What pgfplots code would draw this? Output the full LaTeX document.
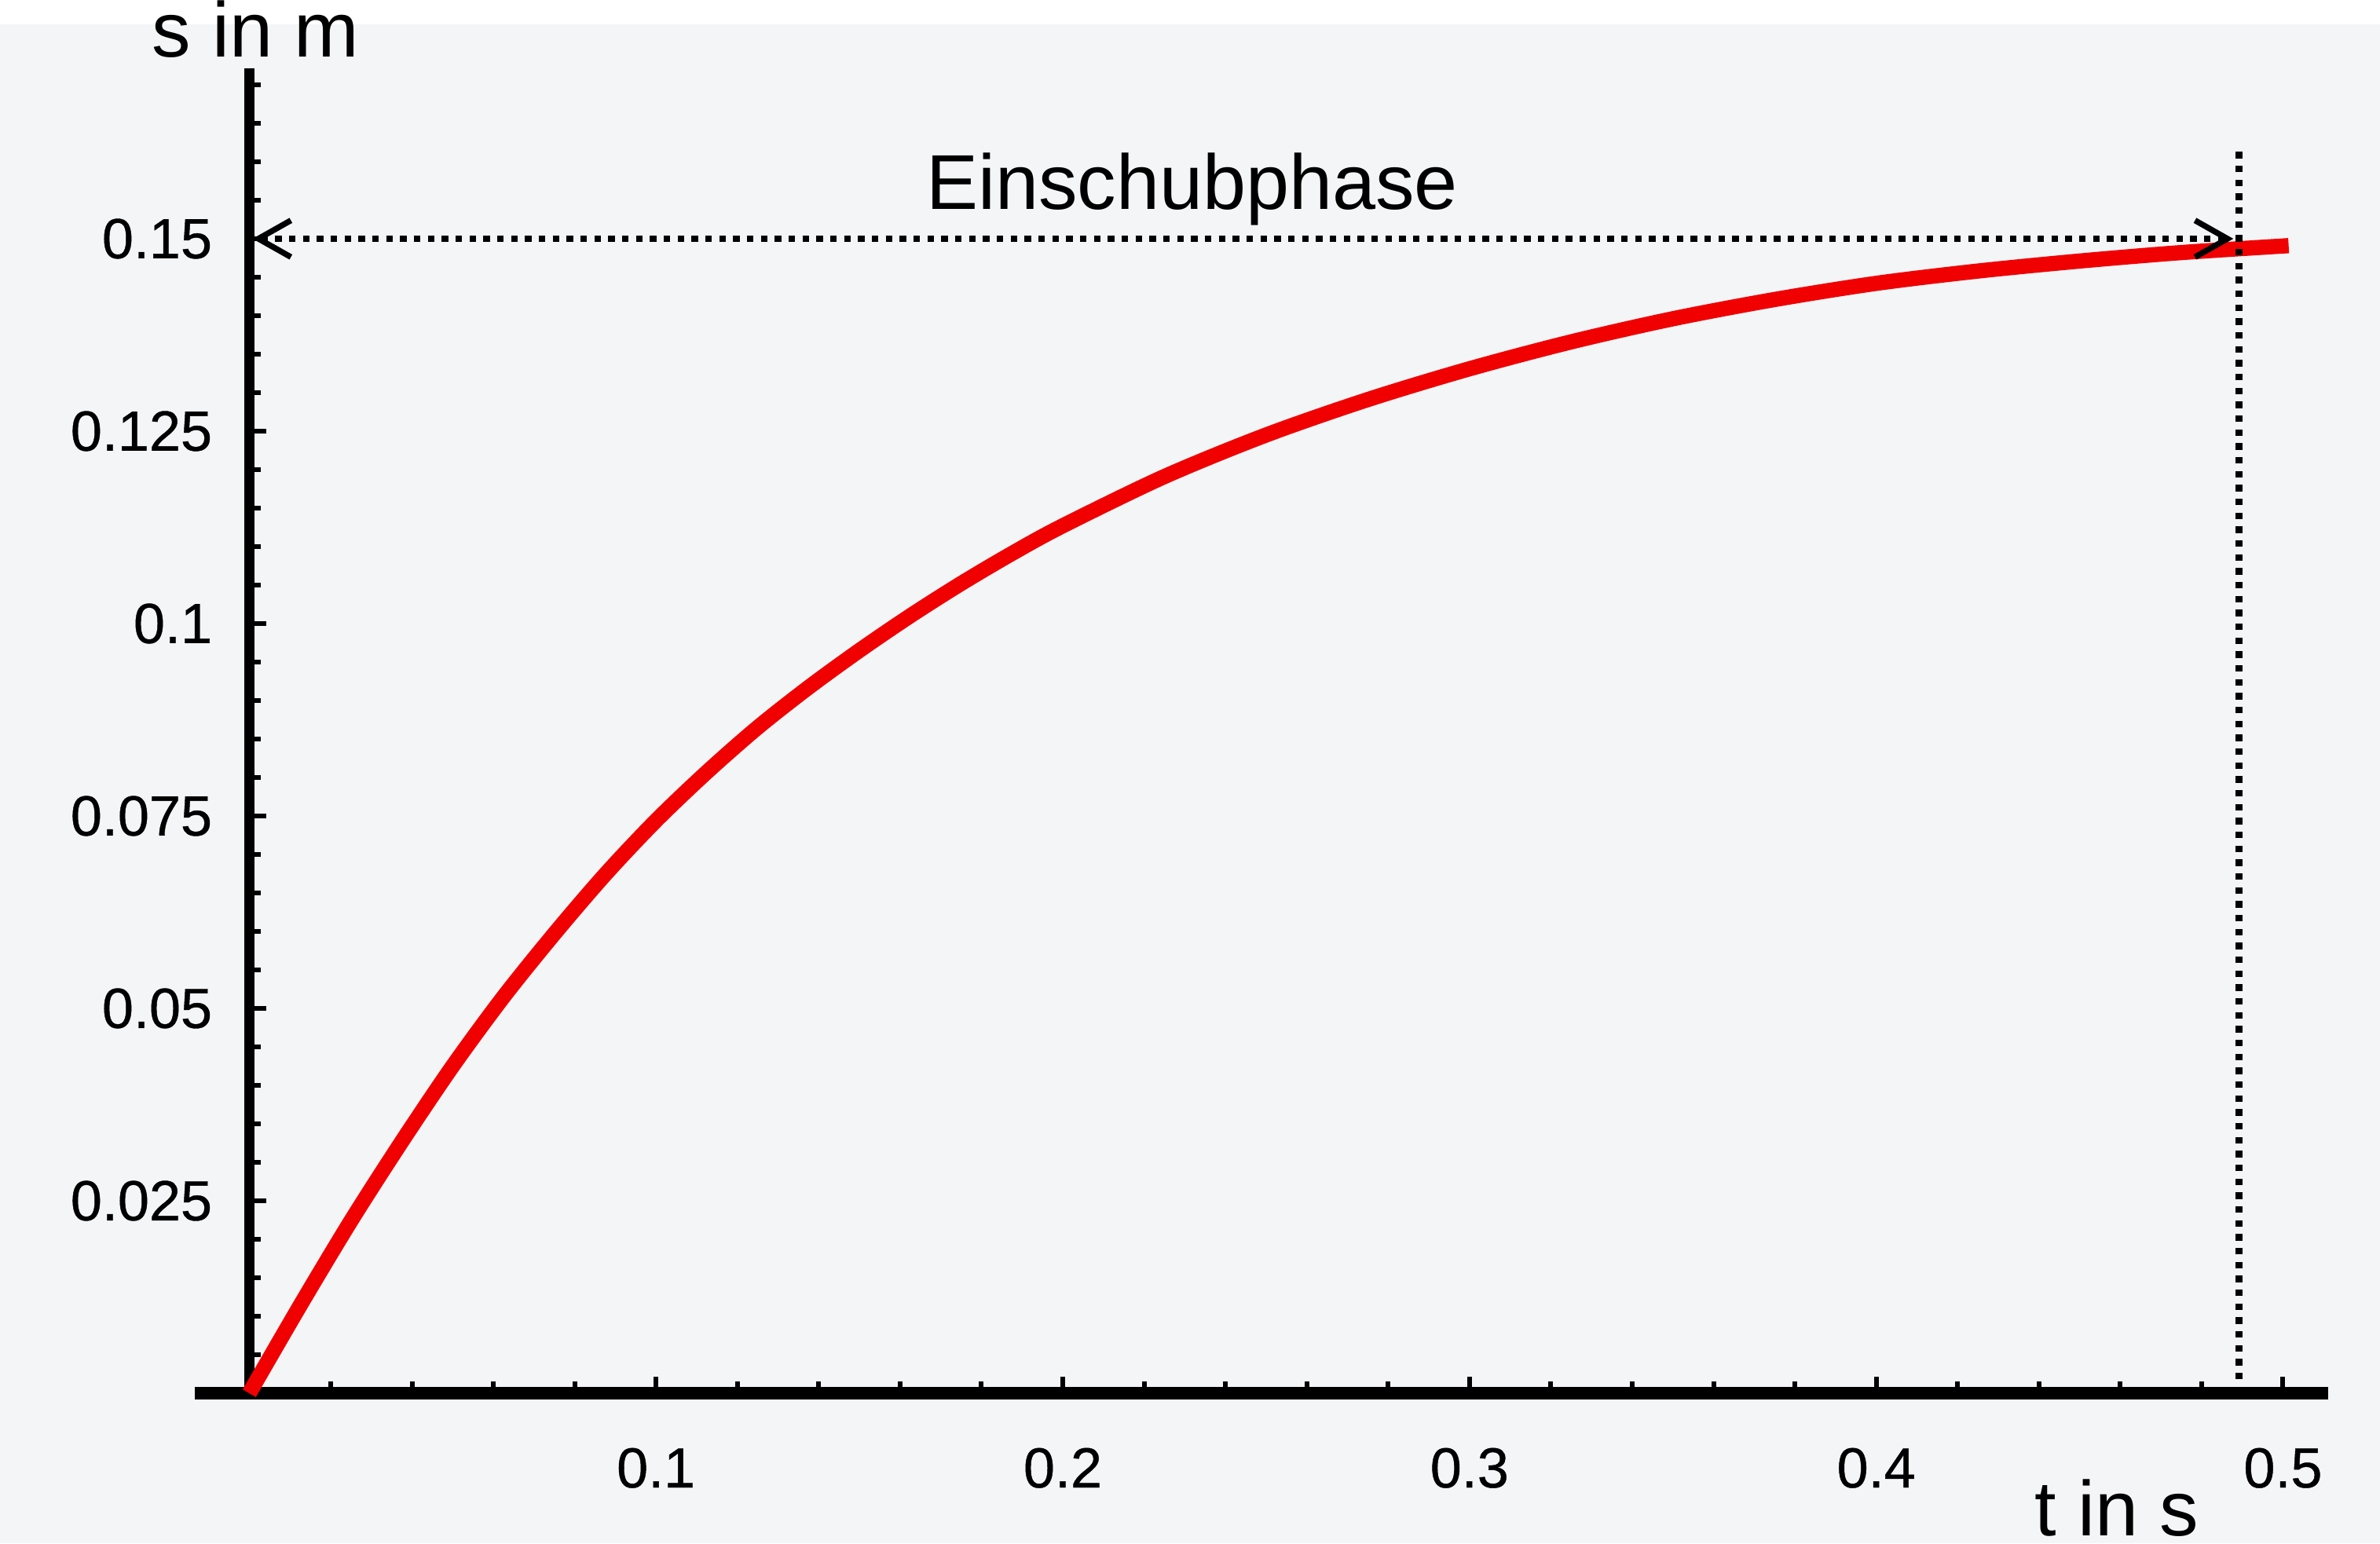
\documentclass[border=0pt]{standalone}
\usepackage{fontspec}
\setmainfont{Liberation Sans}
\newfontfamily\tickfont{Liberation Sans}[FakeBold=0.6]
\usepackage{pgfplots}
\pgfplotsset{compat=1.18}
\usetikzlibrary{arrows.meta}

\definecolor{bggray}{RGB}{243,245,247}
\definecolor{curvered}{RGB}{240,0,0}

\begin{document}
\begin{tikzpicture}
\path[use as bounding box] (0,0) rectangle (454.5pt,294.75pt);
\clip (0,0) rectangle (454.5pt,294.75pt);
\fill[bggray] (0,0) rectangle (454.5pt,290.1pt);
\fill[white] (0,290.1pt) rectangle (454.5pt,294.75pt);
\begin{axis}[
  at={(37.2pt,28.65pt)}, anchor=south west,
  scale only axis, width=407.46pt, height=252.99pt,
  xmin=-0.0134, xmax=0.5112, ymin=0, ymax=0.1721,
  axis x line=bottom, axis y line=middle,
  axis line style={-, black},
  x axis line style={line width=2.5pt},
  y axis line style={line width=1.9pt},
  tick align=inside,
  xtick={0.1,0.2,0.3,0.4,0.5},
  xticklabels={0.1,0.2,0.3,0.4,0.5},
  minor xtick={0.02,0.04,0.06,0.08,0.12,0.14,0.16,0.18,0.22,0.24,0.26,0.28,0.32,0.34,0.36,0.38,0.42,0.44,0.46,0.48},
  ytick={0.025,0.05,0.075,0.1,0.125,0.15},
  yticklabels={0.025,0.05,0.075,0.1,0.125,0.15},
  minor ytick={0.005,0.01,0.015,0.02,0.03,0.035,0.04,0.045,0.055,0.06,0.065,0.07,0.08,0.085,0.09,0.095,0.105,0.11,0.115,0.12,0.13,0.135,0.14,0.145,0.155,0.16,0.165,0.17},
  major tick length=3.2pt, minor tick length=2.2pt,
  tick style={black, line width=0.9pt},
  tick label style={font=\tickfont\fontsize{10.8}{12}\selectfont},
  xticklabel style={anchor=base, yshift=-18pt},
  yticklabel style={anchor=east, inner sep=0pt, xshift=-6.9pt},
  clip=false,
]
% s(t)
\addplot[curvered, line width=2.9pt, smooth] table {
t s
0      0
0.0125 0.0114
0.025  0.0224
0.0375 0.0327
0.05   0.0425
0.0625 0.0515
0.075  0.0597
0.0875 0.0674
0.1    0.0744
0.1125 0.0807
0.125  0.0865
0.1375 0.0917
0.15   0.0965
0.1625 0.1010
0.175  0.1052
0.1875 0.1091
0.2    0.1127
0.225  0.1191
0.25   0.1245
0.275  0.1291
0.3    0.1331
0.325  0.1366
0.35   0.1396
0.375  0.1421
0.4    0.1442
0.425  0.1458
0.45   0.1471
0.475  0.1482
0.5014 0.1491
};

\draw[line width=1.25pt, dash pattern=on 1.25pt off 1.4pt]
  (axis cs:0.4892,0) -- (axis cs:0.4892,0.1618);
\draw[line width=1.25pt, dash pattern=on 1.25pt off 1.4pt,
  {Straight Barb[length=6.2pt,width=7pt,line width=1.1pt]}-{Straight Barb[length=6.2pt,width=7pt,line width=1.1pt]}]
  (axis cs:0.0008,0.15) -- (axis cs:0.4878,0.15);

\node[anchor=base, font=\fontsize{14.85}{16}\selectfont] at (axis cs:0.2318,0.1538) {Einschubphase};
\node[anchor=base, font=\fontsize{14.85}{16}\selectfont] at (axis cs:0.0015,0.1736) {s in m};
\node[anchor=base, font=\fontsize{14.85}{16}\selectfont] at (axis cs:0.4591,-0.0185) {t in s};
\end{axis}
\end{tikzpicture}
\end{document}
